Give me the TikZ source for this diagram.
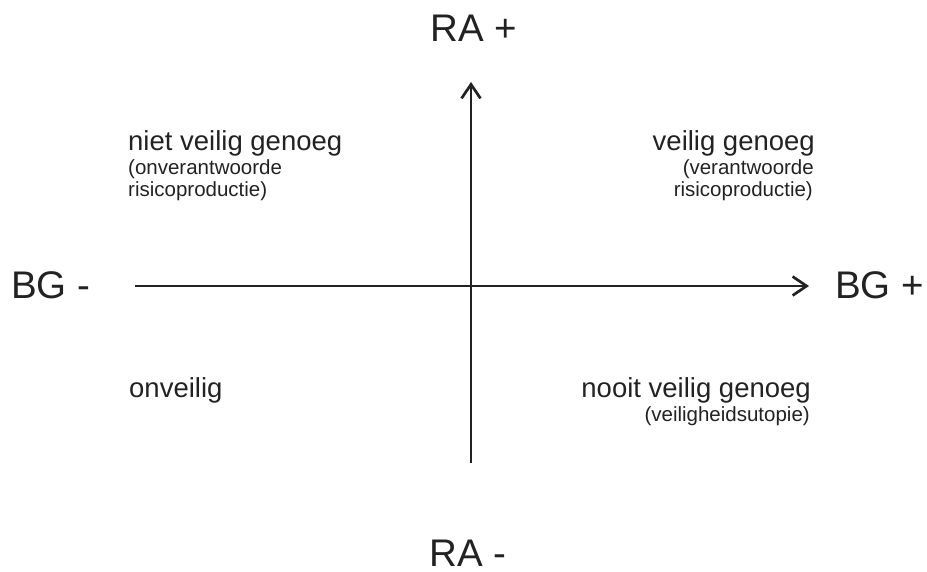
\documentclass[tikz,border=0pt]{standalone}
\usepackage{fontspec}
\setmainfont{Liberation Sans}
\usetikzlibrary{arrows.meta}
\definecolor{ink}{HTML}{222222}
\tikzset{
  big/.style={font=\fontsize{38.5}{40}\selectfont, text=ink, inner sep=0pt},
  head/.style={font=\fontsize{27.5}{29}\selectfont, text=ink, inner sep=0pt},
  sub/.style={font=\fontsize{20.5}{22}\selectfont, text=ink, inner sep=0pt},
  axis/.style={draw=ink, line width=2.7pt, -{Straight Barb[length=14pt,width=19pt]}}
}
\begin{document}
\begin{tikzpicture}[x=1pt,y=-1pt]
\useasboundingbox (0,0) rectangle (927,571);
\coordinate (xl) at (135,286);
\coordinate (xr) at (809,286);
\coordinate (yb) at (471,463);
\coordinate (yt) at (471,82);
\draw[axis] (xl) -- (xr);
\draw[axis] (yb) -- (yt);
\node[big, anchor=base] (rap) at (474,41) {RA +};
\node[big, anchor=base] (ram) at (468,566) {RA -};
\node[big, anchor=base west] (bgm) at (11,298) {BG -};
\node[big, anchor=base west] (bgp) at (835,298) {BG +};
% top left
\node[head, anchor=base west] (tl1) at (128,150) {niet veilig genoeg};
\node[sub, anchor=base west] (tl2) at (128,174) {(onverantwoorde};
\node[sub, anchor=base west] (tl3) at (128,196) {risicoproductie)};
% top right
\node[head, anchor=base east] (tr1) at (815,150) {veilig genoeg};
\node[sub, anchor=base east] (tr2) at (814,174) {(verantwoorde};
\node[sub, anchor=base east] (tr3) at (813,196) {risicoproductie)};
% bottom left
\node[head, anchor=base west] (bl1) at (129,397) {onveilig};
% bottom right
\node[head, anchor=base east] (br1) at (811,397) {nooit veilig genoeg};
\node[sub, anchor=base east] (br2) at (810,421) {(veiligheidsutopie)};
\end{tikzpicture}
\end{document}
